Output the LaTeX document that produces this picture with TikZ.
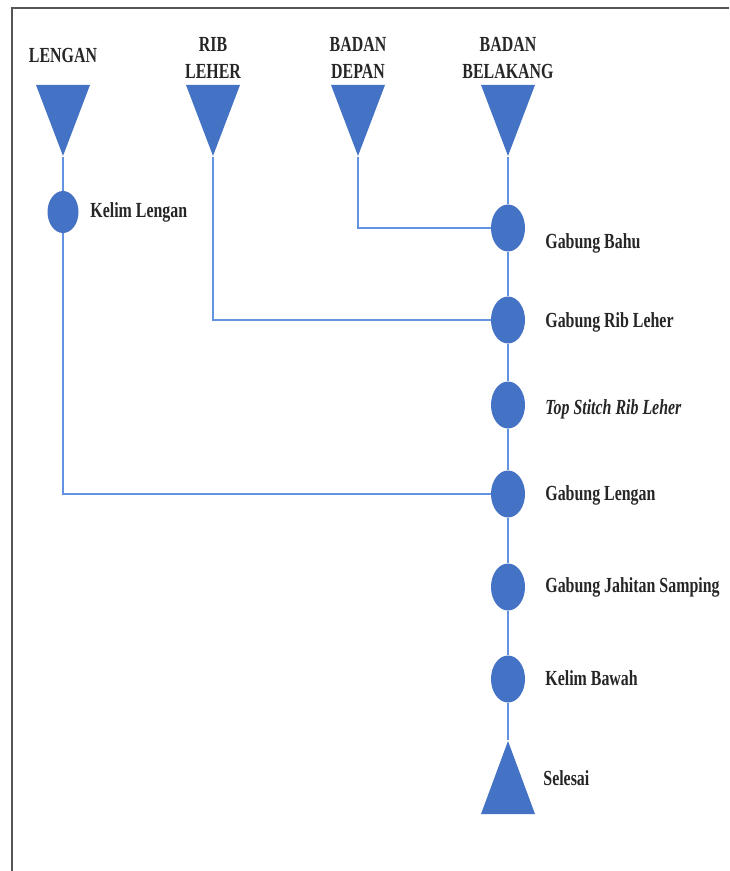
\documentclass[tikz,border=0pt]{standalone}
\usepackage{fontspec}
\setmainfont{Liberation Serif}
\usetikzlibrary{shapes.geometric, positioning}
\definecolor{flowblue}{RGB}{68,114,196}
\definecolor{linkblue}{RGB}{100,146,226}
\definecolor{framegray}{RGB}{85,85,85}
\newcommand{\squeeze}[1]{\scalebox{0.74}[1]{#1}}

\begin{document}
\begin{tikzpicture}[x=0.5pt, y=-0.5pt,
  proc/.style={ellipse, fill=flowblue, minimum width=17pt, minimum height=23.5pt, inner sep=0},
  srctri/.style={isosceles triangle, isosceles triangle stretches, shape border rotate=-90, fill=flowblue, minimum width=27pt, minimum height=35.5pt, inner sep=0, anchor=apex},
  endtri/.style={isosceles triangle, isosceles triangle stretches, shape border rotate=90, fill=flowblue, minimum width=27pt, minimum height=36.5pt, inner sep=0, anchor=apex},
  link/.style={linkblue, line width=1pt},
  lbl/.style={anchor=west, inner sep=0, text=black!85, font=\fontsize{10.75}{13.5}\selectfont\bfseries},
  toplbl/.style={align=center, inner sep=0, text=black!85, font=\fontsize{10.75}{13.5}\selectfont\bfseries}]
  \useasboundingbox (0,0) rectangle (729,871);
  % frame
  \draw[framegray, line width=1pt] (12,871) -- (12,8) -- (729,8);
  % bahan masuk
  \node[toplbl] (lblLengan) at (63,55) {\squeeze{LENGAN}};
  \node[toplbl] (lblRib) at (213,58) {\squeeze{RIB}\\\squeeze{LEHER}};
  \node[toplbl] (lblDepan) at (358,58) {\squeeze{BADAN}\\\squeeze{DEPAN}};
  \node[toplbl] (lblBelakang) at (508,58) {\squeeze{BADAN}\\\squeeze{BELAKANG}};
  \node[srctri] (tLengan) at (63,157) {};
  \node[srctri] (tRib) at (213,157) {};
  \node[srctri] (tDepan) at (358,157) {};
  \node[srctri] (tBelakang) at (508,157) {};
  % proses
  \node[proc, minimum width=15.5pt, minimum height=21pt] (kelimLengan) at (63,212) {};
  \node[proc] (gabBahu) at (508,228) {};
  \node[proc] (gabRib) at (508,320) {};
  \node[proc] (topStitch) at (508,405) {};
  \node[proc] (gabLengan) at (508,494) {};
  \node[proc] (gabSamping) at (508,587) {};
  \node[proc] (kelimBawah) at (508,679) {};
  \node[endtri] (selesai) at (508,740) {};
  % keterangan
  \node[lbl] (lblKelimLengan) at (90,212) {\squeeze{Kelim Lengan}};
  \node[lbl] (lblBahu) at (545,243) {\squeeze{Gabung Bahu}};
  \node[lbl] (lblGabRib) at (545,322) {\squeeze{Gabung Rib Leher}};
  \node[lbl] (lblStitch) at (545,409) {\squeeze{\itshape Top Stitch Rib Leher}};
  \node[lbl] (lblGabLengan) at (545,495) {\squeeze{Gabung Lengan}};
  \node[lbl] (lblSamping) at (545,587) {\squeeze{Gabung Jahitan Samping}};
  \node[lbl] (lblBawah) at (545,678) {\squeeze{Kelim Bawah}};
  \node[lbl] (lblSelesai) at (543,778) {\squeeze{Selesai}};
  % garis alur
  \draw[link] (tLengan.apex) -- (kelimLengan);
  \draw[link] (kelimLengan) -- (kelimLengan |- gabLengan) -- (gabLengan);
  \draw[link] (tRib.apex) -- (tRib.apex |- gabRib) -- (gabRib);
  \draw[link] (tDepan.apex) -- (tDepan.apex |- gabBahu) -- (gabBahu);
  \draw[link] (tBelakang.apex) -- (gabBahu);
  \draw[link] (gabBahu) -- (gabRib);
  \draw[link] (gabRib) -- (topStitch);
  \draw[link] (topStitch) -- (gabLengan);
  \draw[link] (gabLengan) -- (gabSamping);
  \draw[link] (gabSamping) -- (kelimBawah);
  \draw[link] (kelimBawah) -- (selesai.apex);
\end{tikzpicture}
\end{document}
